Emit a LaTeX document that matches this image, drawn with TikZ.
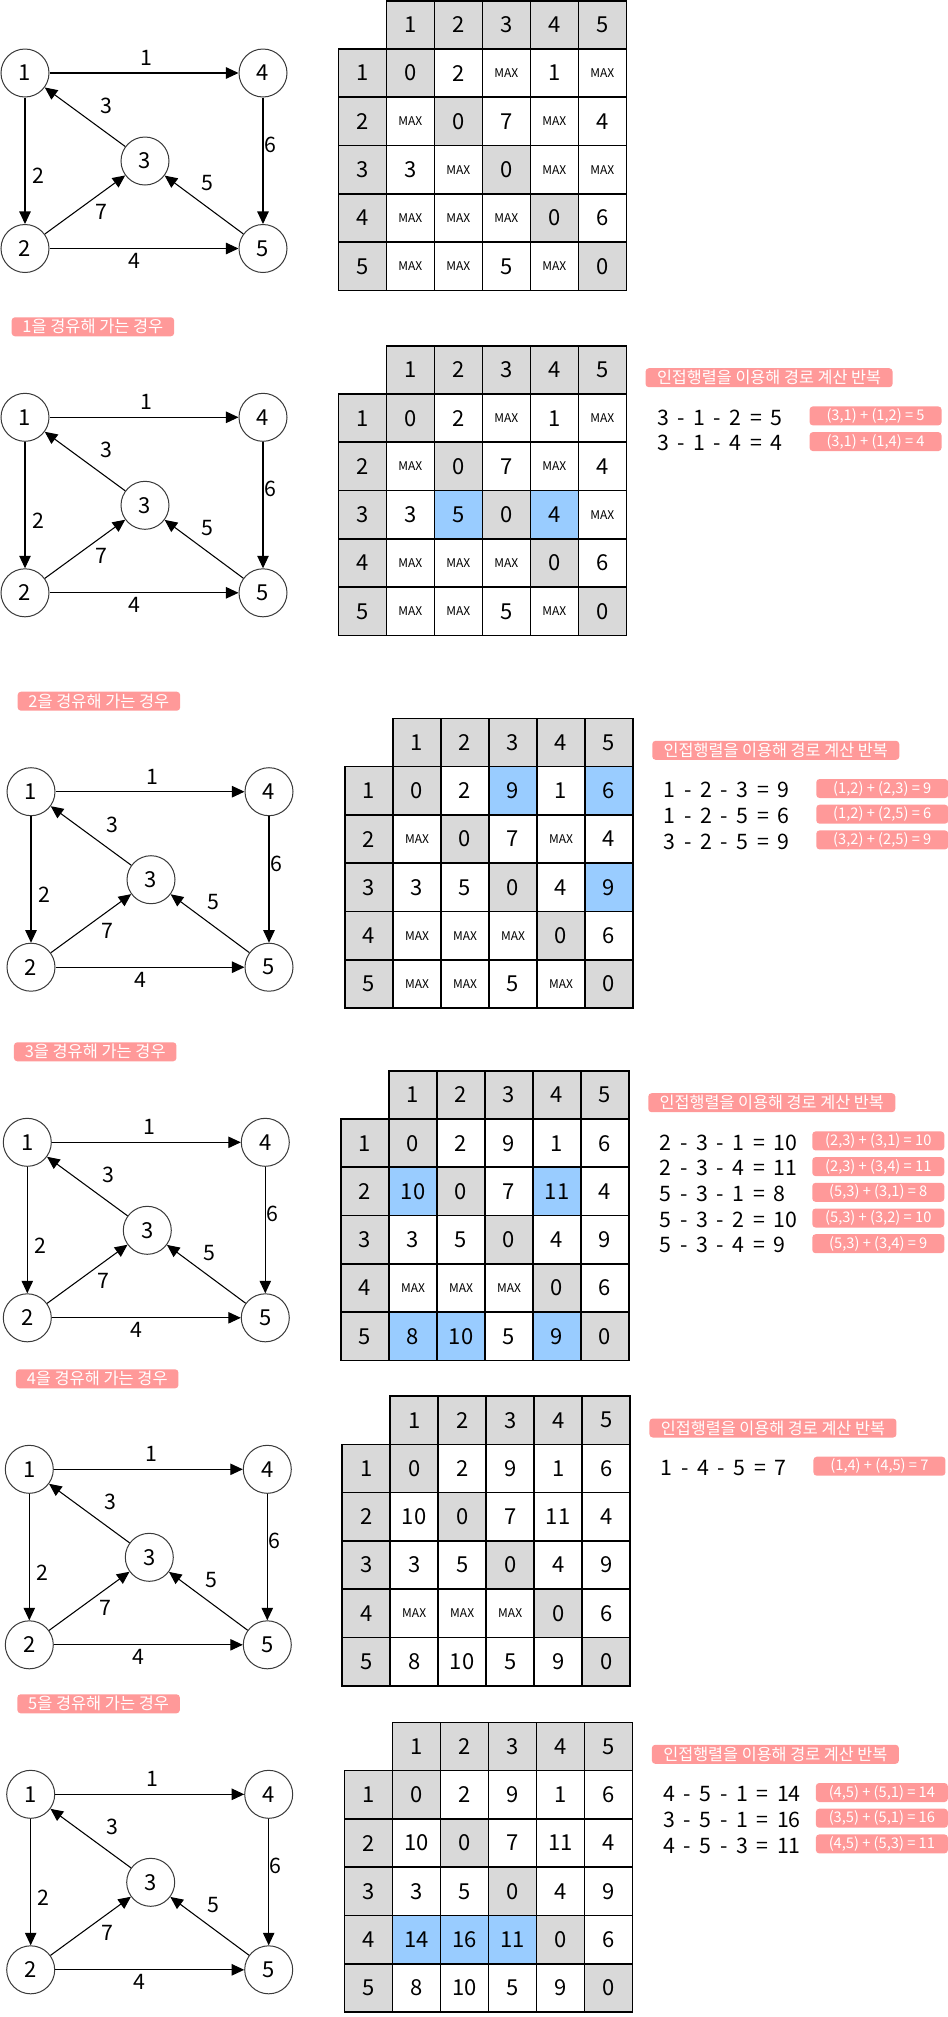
\documentclass[tikz,border=0pt]{standalone}
\usepackage{fontspec}
\setmainfont{Noto Sans CJK KR}
\newfontfamily\eqfont[WordSpace=1.8]{Noto Sans CJK KR}
\usepackage{tikz}
\usetikzlibrary{arrows.meta,positioning}
\definecolor{ink}{HTML}{000000}
\definecolor{rim}{HTML}{3A3A3A}
\definecolor{gr}{HTML}{D9D9D9}
\definecolor{bl}{HTML}{99CCFF}
\colorlet{wt}{white}
\definecolor{tagpink}{HTML}{FF9999}
\tikzset{
  vertex/.style={circle, draw=rim, line width=0.75pt, minimum size=36pt, inner sep=0pt, font=\fontsize{16.5}{17}\selectfont},
  arrow/.style={-{Triangle[length=9.4pt,width=8.6pt]}, draw=ink, line width=0.8pt},
  wlabel/.style={inner sep=0pt, font=\fontsize{16}{17}\selectfont},
  cell/.style={rectangle, draw=ink, line width=1.2pt, minimum width=36pt, minimum height=36.2pt, inner sep=0pt, font=\fontsize{16.5}{17}\selectfont},
  tag/.style={rectangle, rounded corners=2.5pt, fill=tagpink, text=white, inner sep=0pt, minimum width=121.9pt, minimum height=14.25pt, font=\fontsize{12.3}{13}\selectfont},
  banner/.style={tag, anchor=west, minimum width=185.25pt, font=\fontsize{12.2}{13}\selectfont},
  sumtag/.style={tag, anchor=west, minimum width=99pt, font=\fontsize{11}{12}\selectfont},
  eqtext/.style={anchor=west, inner sep=0pt, font=\eqfont\fontsize{16}{17}\selectfont}
}
\newcommand{\mx}{{\fontsize{9}{9}\selectfont MAX}}
% graph of the five vertices, vertex 1 at (#2,#3)
\newcommand{\routegraph}[3]{%
  \begin{scope}[shift={(#2,#3)}]
    \node[vertex] (g#1-1) at (0,0) {1};
    \node[vertex] (g#1-4) at (238,0) {4};
    \node[vertex] (g#1-3) at (120,88) {3};
    \node[vertex] (g#1-2) at (0,175.5) {2};
    \node[vertex] (g#1-5) at (238,175.5) {5};
    \draw[arrow] (g#1-1) -- (g#1-4);
    \draw[arrow] (g#1-1) -- (g#1-2);
    \draw[arrow] (g#1-3) -- (g#1-1);
    \draw[arrow] (g#1-2) -- (g#1-3);
    \draw[arrow] (g#1-5) -- (g#1-3);
    \draw[arrow] (g#1-4) -- (g#1-5);
    \draw[arrow] (g#1-2) -- (g#1-5);
    \node[wlabel] (g#1-w14) at (121.7,-15) {1};
    \node[wlabel] (g#1-w31) at (81.5,33) {3};
    \node[wlabel] (g#1-w12) at (13,103) {2};
    \node[wlabel] (g#1-w45) at (245,72) {6};
    \node[wlabel] (g#1-w53) at (182.3,110.5) {5};
    \node[wlabel] (g#1-w23) at (76.5,139) {7};
    \node[wlabel] (g#1-w25) at (109,188) {4};
  \end{scope}}
% distance table, top left corner at (#2,#3)
\newcommand{\distmat}[4]{%
  \begin{scope}[shift={(#2,#3)}]
    \foreach \c in {1,...,5}
      \node[cell, fill=gr] (m#1-h\c) at ({48*\c+24},24.15) {\c};
    \foreach \row [count=\r] in {#4} {
      \node[cell, fill=gr] (m#1-r\r) at (24,{48.3*\r+24.15}) {\r};
      \foreach \v/\f [count=\c] in \row
        \node[cell, fill=\f] (m#1-\r-\c) at ({48*\c+24},{48.3*\r+24.15}) {\v};
    }
  \end{scope}}
% notes beside a table whose corner is at (#2,#3)
\newcommand{\stepnotes}[4]{%
  \begin{scope}[shift={(#2,#3)}]
    \node[banner] (n#1) at (307,32) {인접행렬을 이용해 경로 계산 반복};
    \foreach \eqn/\sm [count=\i] in {#4} {
      \node[eqtext] (n#1-e\i) at (318.5,{71.7+25.7*(\i-1)}) {\eqn};
      \node[sumtag] (n#1-s\i) at (471,{70.2+25.7*(\i-1)}) {\sm};
    }
  \end{scope}}

\begin{document}
\begin{tikzpicture}[x=0.75pt, y=-0.75pt]
  \fill[white] (0,0) rectangle (948,2017);
  \useasboundingbox (0,0) rectangle (948,2017);

  % start
  \routegraph{0}{25}{73}
  \distmat{0}{338.3}{0.7}{
    {0/gr,2/wt,\mx/wt,1/wt,\mx/wt},
    {\mx/wt,0/gr,7/wt,\mx/wt,4/wt},
    {3/wt,\mx/wt,0/gr,\mx/wt,\mx/wt},
    {\mx/wt,\mx/wt,\mx/wt,0/gr,6/wt},
    {\mx/wt,\mx/wt,5/wt,\mx/wt,0/gr}}

  % via 1
  \node[tag] (t1) at (92.9,326.8) {1을 경유해 가는 경우};
  \routegraph{1}{25}{417.3}
  \distmat{1}{338.3}{345.7}{
    {0/gr,2/wt,\mx/wt,1/wt,\mx/wt},
    {\mx/wt,0/gr,7/wt,\mx/wt,4/wt},
    {3/wt,5/bl,0/gr,4/bl,\mx/wt},
    {\mx/wt,\mx/wt,\mx/wt,0/gr,6/wt},
    {\mx/wt,\mx/wt,5/wt,\mx/wt,0/gr}}
  \stepnotes{1}{338.3}{345.7}{
    {3 - 1 - 2 = 5}/{(3,1) + (1,2) = 5},
    {3 - 1 - 4 = 4}/{(3,1) + (1,4) = 4}}

  % via 2
  \node[tag] (t2) at (98.9,701.2) {2을 경유해 가는 경우};
  \routegraph{2}{31}{791.7}
  \distmat{2}{345}{718.3}{
    {0/gr,2/wt,9/bl,1/wt,6/bl},
    {\mx/wt,0/gr,7/wt,\mx/wt,4/wt},
    {3/wt,5/wt,0/gr,4/wt,9/bl},
    {\mx/wt,\mx/wt,\mx/wt,0/gr,6/wt},
    {\mx/wt,\mx/wt,5/wt,\mx/wt,0/gr}}
  \stepnotes{2}{345}{718.3}{
    {1 - 2 - 3 = 9}/{(1,2) + (2,3) = 9},
    {1 - 2 - 5 = 6}/{(1,2) + (2,5) = 6},
    {3 - 2 - 5 = 9}/{(3,2) + (2,5) = 9}}

  % via 3
  \node[tag] (t3) at (95.2,1051.8) {3을 경유해 가는 경우};
  \routegraph{3}{27.3}{1142.3}
  \distmat{3}{341}{1070.7}{
    {0/gr,2/wt,9/wt,1/wt,6/wt},
    {10/bl,0/gr,7/wt,11/bl,4/wt},
    {3/wt,5/wt,0/gr,4/wt,9/wt},
    {\mx/wt,\mx/wt,\mx/wt,0/gr,6/wt},
    {8/bl,10/bl,5/wt,9/bl,0/gr}}
  \stepnotes{3}{341}{1070.7}{
    {2 - 3 - 1 = 10}/{(2,3) + (3,1) = 10},
    {2 - 3 - 4 = 11}/{(2,3) + (3,4) = 11},
    {5 - 3 - 1 = 8}/{(5,3) + (3,1) = 8},
    {5 - 3 - 2 = 10}/{(5,3) + (3,2) = 10},
    {5 - 3 - 4 = 9}/{(5,3) + (3,4) = 9}}

  % via 4
  \node[tag] (t4) at (97.2,1378.8) {4을 경유해 가는 경우};
  \routegraph{4}{29.3}{1469.3}
  \distmat{4}{342.2}{1396}{
    {0/gr,2/wt,9/wt,1/wt,6/wt},
    {10/wt,0/gr,7/wt,11/wt,4/wt},
    {3/wt,5/wt,0/gr,4/wt,9/wt},
    {\mx/wt,\mx/wt,\mx/wt,0/gr,6/wt},
    {8/wt,10/wt,5/wt,9/wt,0/gr}}
  \stepnotes{4}{342.2}{1396}{
    {1 - 4 - 5 = 7}/{(1,4) + (4,5) = 7}}

  % via 5
  \node[tag] (t5) at (98.6,1703.8) {5을 경유해 가는 경우};
  \routegraph{5}{30.7}{1794.3}
  \distmat{5}{344.6}{1722.3}{
    {0/gr,2/wt,9/wt,1/wt,6/wt},
    {10/wt,0/gr,7/wt,11/wt,4/wt},
    {3/wt,5/wt,0/gr,4/wt,9/wt},
    {14/bl,16/bl,11/bl,0/gr,6/wt},
    {8/wt,10/wt,5/wt,9/wt,0/gr}}
  \stepnotes{5}{344.6}{1722.3}{
    {4 - 5 - 1 = 14}/{(4,5) + (5,1) = 14},
    {3 - 5 - 1 = 16}/{(3,5) + (5,1) = 16},
    {4 - 5 - 3 = 11}/{(4,5) + (5,3) = 11}}
\end{tikzpicture}
\end{document}
